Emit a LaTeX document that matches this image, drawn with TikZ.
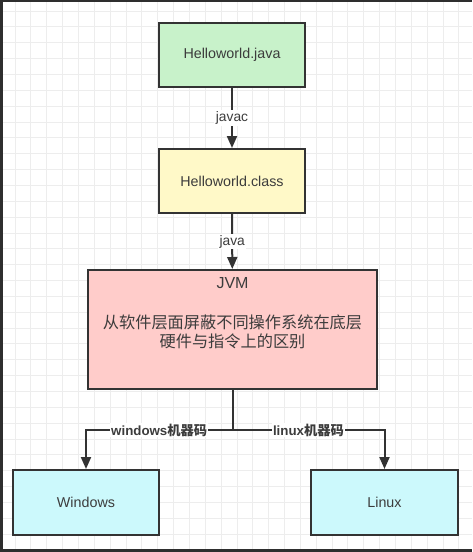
\documentclass[tikz,border=0pt]{standalone}
\usepackage{fontspec}
\setmainfont{Liberation Sans}
\newfontfamily\cjk{Noto Sans CJK SC}
\usetikzlibrary{arrows.meta}
\definecolor{gridc}{HTML}{EDEDED}
\definecolor{framec}{HTML}{2E2E2E}
\definecolor{linec}{HTML}{333333}
\definecolor{textc}{HTML}{3C3C3C}
\definecolor{greenf}{HTML}{C8F2CA}
\definecolor{yellowf}{HTML}{FFF9C8}
\definecolor{pinkf}{HTML}{FFCCCA}
\definecolor{cyanf}{HTML}{CCF9FC}
\tikzset{
  x=1pt, y=-1pt,
  box/.style={draw=linec, line width=2pt, rectangle, inner sep=0pt, text=textc,
    font=\fontsize{14.3}{16}\selectfont},
  arr/.style={draw=linec, line width=2pt, -{Triangle[length=12pt,width=10pt]}},
  plain/.style={draw=linec, line width=2pt},
  lbl/.style={fill=white, inner sep=1.5pt, text=textc, font=\fontsize{13.8}{15}\selectfont},
  blbl/.style={fill=white, inner sep=1pt, text=textc, font=\fontsize{13.3}{15}\selectfont\bfseries},
}
\begin{document}
\begin{tikzpicture}
\useasboundingbox (0,0) rectangle (472,552);
\fill[white] (0,0) rectangle (472,552);
% grid
\foreach \i in {0,...,29} {
  \draw[gridc, line width=0.8pt] (15+\i*15.85,0) -- (15+\i*15.85,552);
}
\foreach \j in {0,...,34} {
  \draw[gridc, line width=0.8pt] (0,11+\j*15.85) -- (472,11+\j*15.85);
}
% frame
\fill[framec] (0,0) rectangle (472,2);
\fill[framec] (0,0) rectangle (3,552);
\fill[framec] (0,549) rectangle (472,552);

% nodes
\node[box, fill=greenf, minimum width=146pt, minimum height=64pt] (java) at (232,55) {Helloworld.java};
\node[box, fill=yellowf, minimum width=146pt, minimum height=64pt] (class) at (232,181) {Helloworld.class};
\node[box, fill=pinkf, minimum width=289pt, minimum height=119pt] (jvm) at (232.5,329.5) {};
\node[text=textc, font=\fontsize{16}{18}\selectfont] (jvmt) at (232.5,283) {JVM};
\node[text=textc, font=\cjk\fontsize{16.2}{18.5}\selectfont, align=center] (jvmd) at (232.5,332) {从软件层面屏蔽不同操作系统在底层\\硬件与指令上的区别};
\node[box, fill=cyanf, minimum width=146pt, minimum height=65pt] (win) at (86,502.5) {Windows};
\node[box, fill=cyanf, minimum width=147pt, minimum height=65pt] (lin) at (384.5,502.5) {Linux};

\coordinate (split) at (232.5,430);

% edges
\draw[arr] (java) -- node[lbl]{javac} (class);
\draw[arr] (class) -- node[lbl]{java} (jvm);
\draw[plain] (jvm.south) -- (split);
\draw[arr] (split) -| node[pos=0.25, blbl]{windows{\cjk 机器码}} (win.north);
\draw[arr] (split) -| node[pos=0.25, blbl]{linux{\cjk 机器码}} (lin.north);
\end{tikzpicture}
\end{document}
